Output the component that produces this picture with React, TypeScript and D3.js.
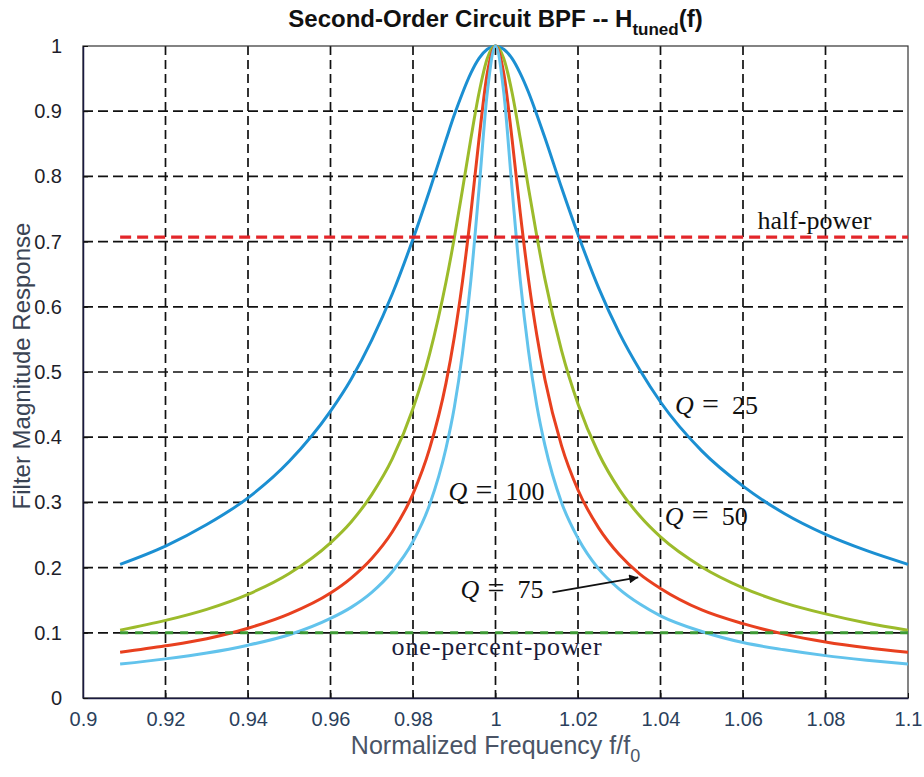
import React, { useEffect, useRef } from 'react';
import * as d3 from 'd3';

const width = 924;
const height = 777;
const margin = { top: 46, right: 16, bottom: 79, left: 83 };

// normalized frequency f/f0 (sample points)
const freq = [
  0.909, 0.92, 0.93, 0.94, 0.95, 0.96, 0.965, 0.97, 0.975, 0.98, 0.984, 0.988,
  0.99, 0.992, 0.994, 0.996, 0.998, 1.0, 1.002, 1.004, 1.006, 1.008, 1.01, 1.012,
  1.016, 1.02, 1.025, 1.03, 1.035, 1.04, 1.05, 1.06, 1.07, 1.08, 1.09, 1.1,
];

const q25 = [
  0.205, 0.233, 0.266, 0.307, 0.363, 0.44, 0.489, 0.549, 0.62, 0.704, 0.778, 0.856,
  0.894, 0.928, 0.958, 0.981, 0.995, 1.0, 0.995, 0.981, 0.958, 0.929, 0.895, 0.859,
  0.783, 0.711, 0.629, 0.56, 0.503, 0.454, 0.379, 0.325, 0.283, 0.251, 0.226, 0.205,
];
const q50 = [
  0.104, 0.119, 0.136, 0.159, 0.191, 0.238, 0.27, 0.312, 0.367, 0.444, 0.527, 0.638,
  0.705, 0.78, 0.857, 0.928, 0.981, 1.0, 0.981, 0.929, 0.858, 0.782, 0.709, 0.642,
  0.533, 0.451, 0.375, 0.32, 0.279, 0.247, 0.201, 0.169, 0.146, 0.129, 0.115, 0.104,
];
const q75 = [
  0.07, 0.08, 0.091, 0.107, 0.129, 0.161, 0.184, 0.214, 0.255, 0.313, 0.382, 0.483,
  0.553, 0.639, 0.742, 0.857, 0.958, 1.0, 0.958, 0.858, 0.744, 0.642, 0.557, 0.488,
  0.387, 0.319, 0.261, 0.22, 0.19, 0.168, 0.135, 0.114, 0.098, 0.086, 0.077, 0.07,
];
const q100 = [
  0.052, 0.06, 0.069, 0.081, 0.097, 0.122, 0.139, 0.162, 0.194, 0.24, 0.296, 0.383,
  0.445, 0.529, 0.639, 0.78, 0.928, 1.0, 0.929, 0.782, 0.641, 0.532, 0.449, 0.387,
  0.3, 0.245, 0.198, 0.167, 0.144, 0.126, 0.102, 0.085, 0.074, 0.065, 0.058, 0.052,
];

const xTicks = [0.9, 0.92, 0.94, 0.96, 0.98, 1, 1.02, 1.04, 1.06, 1.08, 1.1];
const yTicks = [0, 0.1, 0.2, 0.3, 0.4, 0.5, 0.6, 0.7, 0.8, 0.9, 1];

const halfPower = 0.707;
const onePercentPower = 0.1;

const series = [
  { q: '25', values: q25, color: '#1b8fd2' },
  { q: '50', values: q50, color: '#9cbb2b' },
  { q: '75', values: q75, color: '#e8401f' },
  { q: '100', values: q100, color: '#62c3ec' },
];

// curve labels: anchor (start of "Q") in data coordinates
const curveLabels = [
  { q: '25', fx: 1.0435, fy: 0.436 },
  { q: '100', fx: 0.9886, fy: 0.304 },
  { q: '50', fx: 1.041, fy: 0.265 },
  { q: '75', fx: 0.9915, fy: 0.153 },
];

const App = () => {
  const ref = useRef<SVGSVGElement | null>(null);

  useEffect(() => {
    const svg = d3.select(ref.current);
    svg.selectAll('*').remove();

    const x = d3
      .scaleLinear()
      .domain([0.9, 1.1])
      .range([margin.left, width - margin.right]);
    const y = d3
      .scaleLinear()
      .domain([0, 1])
      .range([height - margin.bottom, margin.top]);

    svg
      .append('rect')
      .attr('width', width)
      .attr('height', height)
      .attr('fill', '#fff');

    // grid
    const grid = svg.append('g').attr('stroke', '#111').attr('stroke-width', 1.7);
    grid
      .selectAll('line.vg')
      .data(xTicks.slice(1, -1))
      .enter()
      .append('line')
      .attr('x1', d => x(d))
      .attr('x2', d => x(d))
      .attr('y1', y(1))
      .attr('y2', y(0))
      .attr('stroke-dasharray', '9,5');
    grid
      .selectAll('line.hg')
      .data(yTicks.slice(1, -1))
      .enter()
      .append('line')
      .attr('x1', x(0.9))
      .attr('x2', x(1.1))
      .attr('y1', d => y(d))
      .attr('y2', d => y(d))
      .attr('stroke-dasharray', '10,5');

    // box
    svg
      .append('rect')
      .attr('x', x(0.9))
      .attr('y', y(1))
      .attr('width', x(1.1) - x(0.9))
      .attr('height', y(0) - y(1))
      .attr('fill', 'none')
      .attr('stroke', '#333')
      .attr('stroke-width', 1.2);

    const sans = 'Liberation Sans, Arial, Helvetica, sans-serif';

    // axes
    const xAxis = svg
      .append('g')
      .attr('transform', `translate(0,${y(0)})`)
      .call(
        d3
          .axisBottom(x)
          .tickValues(xTicks)
          .tickFormat(d => String(d))
          .tickSizeInner(-5)
          .tickSizeOuter(0)
          .tickPadding(14)
      );
    xAxis.select('.domain').attr('stroke', '#1a1a40').attr('stroke-width', 1.5);
    xAxis.selectAll('.tick line').attr('stroke', '#111');
    xAxis
      .selectAll('.tick text')
      .attr('font-family', sans)
      .attr('font-size', 20)
      .attr('fill', '#2b3f5c');

    const yAxis = svg
      .append('g')
      .attr('transform', `translate(${x(0.9)},0)`)
      .call(
        d3
          .axisLeft(y)
          .tickValues(yTicks)
          .tickFormat(d => String(d))
          .tickSizeInner(-5)
          .tickSizeOuter(0)
          .tickPadding(21)
      );
    yAxis.select('.domain').attr('stroke', '#1a1a40').attr('stroke-width', 1.5);
    yAxis.selectAll('.tick line').attr('stroke', '#111');
    yAxis
      .selectAll('.tick text')
      .attr('font-family', sans)
      .attr('font-size', 20)
      .attr('fill', '#1e1e2a');

    // response curves
    const line = d3
      .line<number>()
      .x((_, i) => x(freq[i]))
      .y(d => y(d))
      .curve(d3.curveMonotoneX);

    svg
      .append('g')
      .selectAll('path')
      .data(series)
      .enter()
      .append('path')
      .attr('d', d => line(d.values))
      .attr('fill', 'none')
      .attr('stroke', d => d.color)
      .attr('stroke-width', 3);

    // reference levels
    svg
      .append('line')
      .attr('x1', x(freq[0]))
      .attr('x2', x(freq[freq.length - 1]))
      .attr('y1', y(halfPower))
      .attr('y2', y(halfPower))
      .attr('stroke', '#e3262a')
      .attr('stroke-width', 3.2)
      .attr('stroke-dasharray', '11,6');
    svg
      .append('line')
      .attr('x1', x(freq[0]))
      .attr('x2', x(freq[freq.length - 1]))
      .attr('y1', y(onePercentPower))
      .attr('y2', y(onePercentPower))
      .attr('stroke', '#3d9a34')
      .attr('stroke-width', 3)
      .attr('stroke-dasharray', '8,7');

    // annotations
    const serif = 'Liberation Serif, DejaVu Serif, serif';
    svg
      .append('text')
      .attr('x', x(1.0635))
      .attr('y', y(0.719))
      .attr('font-family', serif)
      .attr('font-size', 26)
      .attr('fill', '#111')
      .text('half-power');
    svg
      .append('text')
      .attr('x', x(0.9748))
      .attr('y', y(0.066))
      .attr('font-family', serif)
      .attr('font-size', 26)
      .attr('fill', '#1c1c3a')
      .attr('textLength', 210)
      .text('one-percent-power');

    const labels = svg
      .append('g')
      .selectAll('text')
      .data(curveLabels)
      .enter()
      .append('text')
      .attr('y', d => y(d.fy))
      .attr('font-family', serif)
      .attr('font-size', 26)
      .attr('fill', '#111');
    labels
      .append('tspan')
      .attr('x', d => x(d.fx))
      .attr('font-style', 'italic')
      .text('Q');
    labels
      .append('tspan')
      .attr('x', d => x(d.fx) + 27)
      .attr('font-size', 30)
      .text('=');
    labels
      .append('tspan')
      .attr('x', d => x(d.fx) + 57)
      .attr('font-size', 26)
      .text(d => d.q);

    // arrow to the Q = 75 curve
    svg
      .append('defs')
      .append('marker')
      .attr('id', 'arrowhead')
      .attr('viewBox', '0 0 10 10')
      .attr('refX', 10)
      .attr('refY', 5)
      .attr('markerWidth', 14)
      .attr('markerHeight', 9)
      .attr('markerUnits', 'userSpaceOnUse')
      .attr('orient', 'auto')
      .append('path')
      .attr('d', 'M0,0 L10,5 L0,10 Z')
      .attr('fill', '#111');
    svg
      .append('line')
      .attr('x1', x(1.0138))
      .attr('y1', y(0.162))
      .attr('x2', x(1.0346))
      .attr('y2', y(0.185))
      .attr('stroke', '#111')
      .attr('stroke-width', 2)
      .attr('marker-end', 'url(#arrowhead)');

    // title
    const title = svg
      .append('text')
      .attr('x', x(1))
      .attr('y', 27)
      .attr('text-anchor', 'middle')
      .attr('font-family', sans)
      .attr('font-weight', 'bold')
      .attr('font-size', 24)
      .attr('fill', '#111');
    title.append('tspan').text('Second-Order Circuit BPF -- H');
    title.append('tspan').attr('font-size', 17).attr('dy', 8).text('tuned');
    title.append('tspan').attr('dy', -8).text('(f)');

    // axis labels
    const xl = svg
      .append('text')
      .attr('x', x(1))
      .attr('y', 754)
      .attr('text-anchor', 'middle')
      .attr('font-family', sans)
      .attr('font-size', 25)
      .attr('fill', '#4a5466');
    xl.append('tspan').text('Normalized Frequency f/f');
    xl.append('tspan').attr('font-size', 18).attr('dy', 8).text('0');

    svg
      .append('text')
      .attr('transform', 'translate(30,366) rotate(-90)')
      .attr('text-anchor', 'middle')
      .attr('font-family', sans)
      .attr('font-size', 24)
      .attr('fill', '#3a4454')
      .text('Filter Magnitude Response');
  }, []);

  return (
    <svg
      ref={ref}
      width={width}
      height={height}
      style={{ position: 'absolute', left: 0, top: 0 }}
    />
  );
};

export default App;
